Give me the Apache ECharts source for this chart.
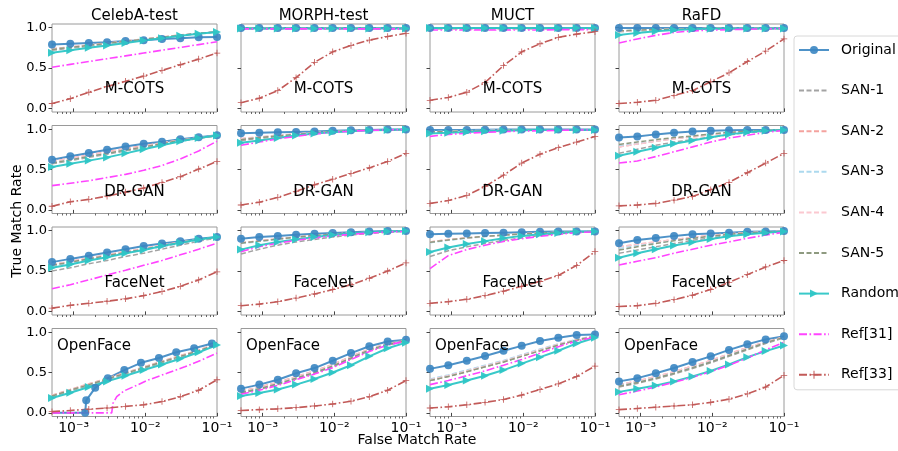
<!DOCTYPE html>
<html><head><meta charset="utf-8">
<script src="https://cdn.jsdelivr.net/npm/echarts@6/dist/echarts.min.js"></script>
<style>html,body{margin:0;padding:0;background:#fff}#c{width:898px;height:451px}</style>
</head><body><div id="c"></div>
<script>
// ---------------- DATA ----------------
const FMR = [5e-4, 9e-4, 1.63e-3, 2.93e-3, 5.3e-3, 9.5e-3, 1.71e-2, 3.08e-2, 5.55e-2, 1e-1];
const seriesNames = ['Original','SAN-1','SAN-2','SAN-3','SAN-4','SAN-5','Random','Ref[31]','Ref[33]'];
const datasetNames = ['CelebA-test','MORPH-test','MUCT','RaFD'];
const matcherNames = ['M-COTS','DR-GAN','FaceNet','OpenFace'];
const xTickValues = [1e-3, 1e-2, 1e-1];
const xTickLabels = ['10\u207B\u00B3','10\u207B\u00B2','10\u207B\u00B9'];
const xMinorTicks = [6e-4,7e-4,8e-4,9e-4,2e-3,3e-3,4e-3,5e-3,6e-3,7e-3,8e-3,9e-3,2e-2,3e-2,4e-2,5e-2,6e-2,7e-2,8e-2,9e-2];
const yTickValues = [0, 0.5, 1];
const yTickLabels = ['0.0','0.5','1.0'];

// Row 1: M-COTS  (order: Original, SAN-1..5, Random, Ref[31], Ref[33])
const mcots_celeba = [
  [0.79,0.80,0.81,0.82,0.835,0.845,0.86,0.87,0.88,0.885],
  [0.72,0.745,0.77,0.795,0.82,0.85,0.875,0.90,0.925,0.945],
  [0.74,0.76,0.785,0.81,0.835,0.86,0.885,0.91,0.93,0.95],
  [0.73,0.755,0.78,0.80,0.83,0.855,0.88,0.905,0.93,0.95],
  [0.735,0.76,0.785,0.805,0.83,0.855,0.88,0.905,0.93,0.95],
  [0.73,0.755,0.78,0.805,0.83,0.855,0.88,0.905,0.93,0.95],
  [0.69,0.72,0.75,0.78,0.81,0.84,0.87,0.90,0.925,0.945],
  [0.51,0.545,0.58,0.615,0.65,0.685,0.72,0.755,0.79,0.825],
  [0.06,0.12,0.20,0.27,0.335,0.40,0.47,0.54,0.61,0.685]
];
const mcots_morph = [
  [0.995,0.995,0.995,0.995,0.995,0.995,0.995,0.995,0.995,0.995],
  [0.99,0.99,0.99,0.99,0.99,0.99,0.99,0.99,0.99,0.99],
  [0.99,0.99,0.99,0.99,0.99,0.99,0.99,0.99,0.99,0.99],
  [0.99,0.99,0.99,0.99,0.99,0.99,0.99,0.99,0.99,0.99],
  [0.99,0.99,0.99,0.99,0.99,0.99,0.99,0.99,0.99,0.99],
  [0.99,0.99,0.99,0.99,0.99,0.99,0.99,0.99,0.99,0.99],
  [0.99,0.99,0.99,0.99,0.99,0.99,0.99,0.99,0.99,0.99],
  [0.985,0.985,0.985,0.985,0.985,0.985,0.985,0.985,0.985,0.985],
  [0.07,0.125,0.22,0.38,0.57,0.70,0.78,0.845,0.89,0.93]
];
const mcots_muct = [
  [0.995,0.995,0.995,0.995,0.995,0.995,0.995,0.995,0.995,0.995],
  [0.99,0.99,0.99,0.99,0.99,0.99,0.99,0.99,0.99,0.99],
  [0.99,0.99,0.99,0.99,0.99,0.99,0.99,0.99,0.99,0.99],
  [0.99,0.99,0.99,0.99,0.99,0.99,0.99,0.99,0.99,0.99],
  [0.99,0.99,0.99,0.99,0.99,0.99,0.99,0.99,0.99,0.99],
  [0.99,0.99,0.99,0.99,0.99,0.99,0.99,0.99,0.99,0.99],
  [0.995,0.995,0.995,0.995,0.995,0.995,0.995,0.995,0.995,0.995],
  [0.97,0.97,0.97,0.97,0.97,0.97,0.97,0.975,0.975,0.975],
  [0.10,0.135,0.20,0.32,0.53,0.70,0.80,0.88,0.92,0.95]
];
const mcots_rafd = [
  [0.995,0.995,0.995,0.995,0.995,0.995,0.995,0.995,0.995,0.995],
  [0.95,0.96,0.97,0.98,0.985,0.99,0.99,0.99,0.99,0.99],
  [0.955,0.965,0.975,0.98,0.985,0.99,0.99,0.99,0.99,0.99],
  [0.955,0.965,0.975,0.98,0.985,0.99,0.99,0.99,0.99,0.99],
  [0.955,0.965,0.975,0.98,0.985,0.99,0.99,0.99,0.99,0.99],
  [0.96,0.97,0.975,0.98,0.985,0.99,0.99,0.99,0.99,0.99],
  [0.91,0.935,0.955,0.97,0.98,0.985,0.99,0.99,0.99,0.99],
  [0.81,0.86,0.905,0.94,0.96,0.97,0.975,0.98,0.985,0.99],
  [0.06,0.075,0.10,0.16,0.22,0.33,0.44,0.58,0.71,0.86]
];
// Row 2: DR-GAN
const drgan_celeba = [
  [0.62,0.665,0.705,0.745,0.785,0.82,0.845,0.875,0.90,0.925],
  [0.57,0.61,0.65,0.69,0.73,0.77,0.81,0.85,0.885,0.915],
  [0.60,0.64,0.68,0.72,0.76,0.795,0.83,0.865,0.895,0.92],
  [0.58,0.62,0.66,0.70,0.74,0.78,0.82,0.86,0.89,0.92],
  [0.60,0.64,0.68,0.715,0.755,0.79,0.83,0.86,0.89,0.92],
  [0.58,0.62,0.66,0.70,0.74,0.78,0.82,0.86,0.89,0.92],
  [0.53,0.57,0.61,0.65,0.70,0.75,0.80,0.85,0.89,0.92],
  [0.30,0.33,0.36,0.40,0.44,0.49,0.55,0.63,0.73,0.85],
  [0.045,0.10,0.13,0.17,0.22,0.27,0.34,0.41,0.505,0.60]
];
const drgan_morph = [
  [0.95,0.955,0.96,0.965,0.97,0.98,0.985,0.99,0.995,0.995],
  [0.86,0.885,0.91,0.93,0.95,0.965,0.975,0.985,0.99,0.995],
  [0.88,0.90,0.92,0.94,0.955,0.97,0.98,0.99,0.99,0.995],
  [0.88,0.90,0.92,0.94,0.955,0.97,0.98,0.99,0.99,0.995],
  [0.885,0.905,0.925,0.94,0.955,0.97,0.98,0.99,0.99,0.995],
  [0.87,0.895,0.915,0.935,0.955,0.97,0.98,0.99,0.99,0.995],
  [0.83,0.86,0.89,0.92,0.945,0.96,0.975,0.985,0.99,0.995],
  [0.80,0.84,0.88,0.91,0.94,0.96,0.975,0.985,0.99,0.995],
  [0.06,0.095,0.155,0.23,0.31,0.38,0.45,0.52,0.60,0.70]
];
const drgan_muct = [
  [0.99,0.99,0.99,0.992,0.994,0.995,0.995,0.995,0.995,0.995],
  [0.965,0.97,0.975,0.98,0.985,0.99,0.99,0.99,0.99,0.99],
  [0.965,0.97,0.975,0.98,0.985,0.99,0.99,0.99,0.99,0.99],
  [0.97,0.975,0.98,0.985,0.985,0.99,0.99,0.99,0.99,0.99],
  [0.965,0.97,0.975,0.98,0.985,0.99,0.99,0.99,0.99,0.99],
  [0.965,0.97,0.975,0.98,0.985,0.99,0.99,0.99,0.99,0.99],
  [0.945,0.955,0.965,0.975,0.98,0.985,0.99,0.99,0.99,0.99],
  [0.91,0.935,0.95,0.96,0.97,0.975,0.98,0.985,0.99,0.99],
  [0.08,0.115,0.18,0.29,0.43,0.58,0.69,0.77,0.84,0.91]
];
const drgan_rafd = [
  [0.895,0.91,0.935,0.955,0.97,0.98,0.985,0.99,0.99,0.99],
  [0.70,0.75,0.80,0.84,0.87,0.90,0.93,0.955,0.975,0.99],
  [0.78,0.815,0.85,0.88,0.905,0.93,0.95,0.97,0.985,0.99],
  [0.79,0.82,0.855,0.885,0.91,0.935,0.955,0.97,0.985,0.99],
  [0.78,0.815,0.85,0.88,0.905,0.93,0.95,0.97,0.985,0.99],
  [0.81,0.84,0.87,0.895,0.915,0.94,0.96,0.975,0.985,0.99],
  [0.67,0.72,0.77,0.82,0.86,0.90,0.935,0.96,0.98,0.99],
  [0.58,0.605,0.66,0.72,0.78,0.84,0.89,0.925,0.96,0.985],
  [0.05,0.06,0.08,0.12,0.165,0.25,0.34,0.46,0.58,0.70]
];
// Row 3: FaceNet
const facenet_celeba = [
  [0.61,0.65,0.69,0.73,0.77,0.81,0.84,0.87,0.90,0.92],
  [0.50,0.54,0.59,0.63,0.68,0.72,0.77,0.82,0.87,0.91],
  [0.58,0.62,0.66,0.70,0.74,0.78,0.82,0.86,0.89,0.92],
  [0.56,0.60,0.64,0.68,0.72,0.76,0.80,0.84,0.88,0.92],
  [0.58,0.62,0.66,0.70,0.74,0.78,0.82,0.855,0.89,0.92],
  [0.57,0.61,0.65,0.69,0.73,0.77,0.81,0.85,0.89,0.92],
  [0.54,0.58,0.63,0.67,0.72,0.76,0.81,0.85,0.89,0.92],
  [0.28,0.33,0.39,0.45,0.51,0.57,0.63,0.70,0.77,0.845],
  [0.04,0.075,0.10,0.125,0.155,0.195,0.245,0.31,0.39,0.49]
];
const facenet_morph = [
  [0.90,0.92,0.935,0.95,0.96,0.97,0.98,0.99,0.995,0.995],
  [0.71,0.77,0.82,0.86,0.89,0.92,0.945,0.965,0.98,0.99],
  [0.85,0.875,0.90,0.92,0.94,0.955,0.97,0.98,0.99,0.995],
  [0.84,0.865,0.89,0.915,0.935,0.955,0.97,0.98,0.99,0.995],
  [0.85,0.875,0.90,0.92,0.94,0.955,0.97,0.98,0.99,0.995],
  [0.845,0.87,0.895,0.92,0.94,0.955,0.97,0.98,0.99,0.995],
  [0.765,0.82,0.86,0.89,0.92,0.945,0.965,0.98,0.99,0.995],
  [0.74,0.80,0.845,0.88,0.91,0.935,0.955,0.97,0.985,0.99],
  [0.07,0.09,0.12,0.165,0.215,0.27,0.33,0.41,0.50,0.60]
];
const facenet_muct = [
  [0.955,0.96,0.965,0.97,0.975,0.98,0.985,0.99,0.99,0.99],
  [0.68,0.75,0.80,0.84,0.88,0.91,0.94,0.96,0.98,0.99],
  [0.86,0.89,0.91,0.93,0.945,0.96,0.97,0.98,0.985,0.99],
  [0.85,0.88,0.905,0.925,0.945,0.96,0.97,0.98,0.985,0.99],
  [0.86,0.89,0.91,0.93,0.945,0.96,0.97,0.98,0.985,0.99],
  [0.855,0.885,0.91,0.93,0.945,0.96,0.97,0.98,0.985,0.99],
  [0.735,0.79,0.835,0.87,0.905,0.935,0.955,0.97,0.985,0.99],
  [0.53,0.69,0.765,0.82,0.865,0.90,0.93,0.955,0.975,0.985],
  [0.10,0.12,0.15,0.195,0.25,0.31,0.37,0.445,0.57,0.74]
];
const facenet_rafd = [
  [0.845,0.885,0.91,0.935,0.955,0.965,0.975,0.985,0.99,0.995],
  [0.72,0.76,0.80,0.84,0.88,0.91,0.94,0.96,0.98,0.99],
  [0.80,0.83,0.86,0.89,0.915,0.94,0.96,0.975,0.985,0.99],
  [0.78,0.815,0.85,0.88,0.905,0.93,0.955,0.97,0.985,0.99],
  [0.80,0.83,0.86,0.89,0.915,0.94,0.96,0.975,0.985,0.99],
  [0.76,0.80,0.84,0.875,0.905,0.93,0.955,0.97,0.985,0.99],
  [0.665,0.72,0.77,0.815,0.855,0.895,0.93,0.955,0.975,0.99],
  [0.575,0.62,0.665,0.72,0.77,0.82,0.86,0.905,0.945,0.98],
  [0.06,0.07,0.10,0.145,0.20,0.27,0.36,0.455,0.55,0.63]
];
// Row 4: OpenFace
const fmr_openface_celeba_original = [5e-4,1.45e-3,1.5e-3,2.0e-3,3.0e-3,5.1e-3,8.7e-3,1.55e-2,2.7e-2,4.8e-2,8.5e-2,1e-1];
const fmr_openface_celeba_ref31 = [5e-4,3.4e-3,3.55e-3,4.0e-3,5.0e-3,7.1e-3,1.12e-2,2.0e-2,3.55e-2,6.3e-2,1e-1];
const openface_celeba = [
  [0,0,0.155,0.31,0.43,0.53,0.62,0.68,0.75,0.80,0.86,0.865],
  [0.20,0.27,0.34,0.41,0.48,0.55,0.62,0.69,0.76,0.845],
  [0.22,0.29,0.36,0.43,0.50,0.57,0.64,0.71,0.78,0.855],
  [0.21,0.28,0.35,0.42,0.49,0.56,0.63,0.70,0.77,0.85],
  [0.215,0.285,0.355,0.425,0.495,0.565,0.635,0.705,0.775,0.85],
  [0.21,0.28,0.35,0.42,0.49,0.56,0.63,0.70,0.77,0.85],
  [0.185,0.25,0.32,0.39,0.46,0.53,0.60,0.67,0.75,0.84],
  [0,0,0.12,0.20,0.27,0.33,0.41,0.49,0.57,0.66,0.74],
  [0.015,0.03,0.045,0.06,0.08,0.10,0.14,0.20,0.28,0.41]
];
const openface_morph = [
  [0.30,0.35,0.41,0.49,0.555,0.645,0.74,0.825,0.885,0.905],
  [0.24,0.29,0.35,0.42,0.49,0.57,0.67,0.77,0.84,0.885],
  [0.27,0.32,0.38,0.45,0.52,0.60,0.70,0.79,0.86,0.895],
  [0.26,0.31,0.37,0.44,0.51,0.59,0.69,0.785,0.855,0.89],
  [0.265,0.315,0.375,0.445,0.515,0.595,0.695,0.79,0.855,0.89],
  [0.25,0.30,0.36,0.43,0.50,0.58,0.68,0.78,0.85,0.89],
  [0.21,0.245,0.29,0.35,0.42,0.50,0.59,0.70,0.80,0.87],
  [0.23,0.28,0.34,0.41,0.48,0.56,0.66,0.76,0.84,0.89],
  [0.03,0.04,0.05,0.065,0.085,0.11,0.145,0.20,0.28,0.40]
];
const openface_muct = [
  [0.545,0.59,0.645,0.705,0.77,0.83,0.89,0.93,0.965,0.97],
  [0.40,0.45,0.51,0.57,0.63,0.70,0.77,0.84,0.90,0.95],
  [0.41,0.46,0.52,0.58,0.64,0.71,0.78,0.85,0.905,0.95],
  [0.42,0.47,0.53,0.59,0.65,0.72,0.79,0.855,0.91,0.955],
  [0.41,0.46,0.52,0.58,0.64,0.71,0.78,0.85,0.905,0.95],
  [0.40,0.45,0.51,0.57,0.63,0.70,0.77,0.84,0.90,0.95],
  [0.30,0.345,0.40,0.46,0.53,0.61,0.69,0.77,0.86,0.93],
  [0.35,0.40,0.46,0.52,0.59,0.66,0.74,0.82,0.89,0.94],
  [0.06,0.075,0.10,0.13,0.165,0.22,0.29,0.36,0.45,0.58]
];
const openface_rafd = [
  [0.39,0.43,0.49,0.555,0.63,0.70,0.78,0.85,0.91,0.95],
  [0.32,0.365,0.42,0.48,0.55,0.62,0.70,0.78,0.86,0.93],
  [0.35,0.395,0.45,0.51,0.58,0.65,0.73,0.81,0.88,0.94],
  [0.34,0.385,0.44,0.50,0.57,0.64,0.72,0.80,0.875,0.935],
  [0.35,0.395,0.45,0.51,0.58,0.65,0.73,0.81,0.88,0.94],
  [0.33,0.375,0.43,0.49,0.56,0.63,0.71,0.79,0.87,0.935],
  [0.26,0.30,0.34,0.39,0.45,0.52,0.60,0.69,0.765,0.835],
  [0.225,0.27,0.32,0.38,0.44,0.51,0.59,0.68,0.78,0.875],
  [0.04,0.055,0.07,0.085,0.10,0.13,0.17,0.235,0.32,0.465]
];

const panels = [
  [mcots_celeba, mcots_morph, mcots_muct, mcots_rafd],
  [drgan_celeba, drgan_morph, drgan_muct, drgan_rafd],
  [facenet_celeba, facenet_morph, facenet_muct, facenet_rafd],
  [openface_celeba, openface_morph, openface_muct, openface_rafd]
];
// series with their own FMR sampling (row-col-series)
const xOverrides = {'3-0-0': fmr_openface_celeba_original, '3-0-7': fmr_openface_celeba_ref31};

// ---------------- STYLE / LAYOUT ----------------
const FONT = 'DejaVu Sans';
const colLeft = [52, 241, 430, 619];
const rowTop = [24, 125.5, 227, 328.5];
const PW = 165, PH = 88;
const XMIN = Math.log10(5e-4), XMAX = -1;
const YMIN = -0.045, YMAX = 1.045;
const PLUS = 'path://M3.5,0h1v3.5h3.5v1h-3.5v3.5h-1v-3.5h-3.5v-1h3.5z';
const DASH = [5, 2.5];
const DASHDOT = [8, 2.5, 1.6, 2.5];
const styles = [
  {color:'#3b86c2', type:'solid', width:2, symbol:'circle', size:8, opacity:0.9, marker:true},
  {color:'#a3a3a3', type:DASH, width:1.5, symbol:'circle', size:0, opacity:1, marker:false},
  {color:'#f4a29e', type:DASH, width:1.5, symbol:'circle', size:0, opacity:1, marker:false},
  {color:'#acd9ee', type:DASH, width:1.5, symbol:'circle', size:0, opacity:1, marker:false},
  {color:'#fbc8d0', type:DASH, width:1.5, symbol:'circle', size:0, opacity:1, marker:false},
  {color:'#8e9a80', type:DASH, width:1.5, symbol:'circle', size:0, opacity:1, marker:false},
  {color:'#2ec6c6', type:'solid', width:2, symbol:'triangle', size:8, rotate:-90, opacity:0.95, marker:true},
  {color:'#ff44ff', type:DASHDOT, width:1.6, symbol:'circle', size:0, opacity:1, marker:false},
  {color:'#c25a58', type:DASHDOT, width:1.6, symbol:PLUS, size:6.5, opacity:1, marker:true}
];

const grids = [], xAxes = [], yAxes = [], series = [], graphics = [];
const lg = v => Math.log10(v);

for (let r = 0; r < 4; r++) {
  for (let c = 0; c < 4; c++) {
    const gi = r * 4 + c;
    grids.push({left: colLeft[c], top: rowTop[r], width: PW, height: PH, show: true,
      borderColor: '#9a9a9a', borderWidth: 1, backgroundColor: 'transparent'});
    const xi = xAxes.length;
    xAxes.push({type:'value', gridIndex: gi, min: XMIN, max: XMAX, position:'bottom',
      axisLine:{show:false}, splitLine:{show:false},
      axisTick:{show:true, length:3.5, customValues: xTickValues.map(lg), lineStyle:{color:'#444', width:1}},
      axisLabel:{show: r === 3, customValues: xTickValues.map(lg), margin:5, fontSize:14, color:'#000', fontFamily:FONT,
        formatter: v => { const i = xTickValues.findIndex(t => Math.abs(lg(t) - v) < 1e-6); return i >= 0 ? xTickLabels[i] : ''; }}
    });
    xAxes.push({type:'value', gridIndex: gi, min: XMIN, max: XMAX, position:'bottom',
      axisLine:{show:false}, splitLine:{show:false},
      axisTick:{show:true, length:2, customValues: xMinorTicks.map(lg), lineStyle:{color:'#444', width:0.8}},
      axisLabel:{show:false}
    });
    yAxes.push({type:'value', gridIndex: gi, min: YMIN, max: YMAX,
      axisLine:{show:false}, splitLine:{show:false},
      axisTick:{show:true, length:3.5, customValues: yTickValues, lineStyle:{color:'#444', width:1}},
      axisLabel:{show: c === 0, customValues: yTickValues, margin:5, fontSize:13, color:'#000', fontFamily:FONT,
        formatter: v => { const i = yTickValues.findIndex(t => Math.abs(t - v) < 1e-9); return i >= 0 ? yTickLabels[i] : ''; }}
    });
    const block = panels[r][c];
    for (let s = 0; s < seriesNames.length; s++) {
      const st = styles[s];
      const key = r + '-' + c + '-' + s;
      const xs = xOverrides[key] || FMR;
      const ys = block[s];
      const data = ys.map((y, i) => {
        const item = {value: [lg(xs[i]), y]};
        if (xOverrides[key] && (i === 0 || i === ys.length - 1)) item.symbol = 'none';
        return item;
      });
      series.push({
        type:'line', name: seriesNames[s], xAxisIndex: xi, yAxisIndex: gi, data,
        symbol: st.symbol, symbolSize: st.size, symbolRotate: st.rotate || 0, showSymbol: st.marker,
        showAllSymbol: true, smooth: false, clip: true, animation:false, silent:true,
        lineStyle:{color: st.color, width: st.width, type: st.type, opacity: st.opacity},
        itemStyle:{color: st.color, opacity: st.opacity, borderWidth:0},
        emphasis:{disabled:true}
      });
    }
  }
}

// titles / labels
for (let c = 0; c < 4; c++) {
  graphics.push({type:'text', x: colLeft[c] + PW / 2, y: 16, style:{text: datasetNames[c], fontSize:15, fontFamily:FONT, fill:'#000', textAlign:'center', textVerticalAlign:'middle'}});
}
const rowLabelOffset = [65, 66.5, 56, 17.5];
for (let r = 0; r < 4; r++) {
  for (let c = 0; c < 4; c++) {
    const left = r === 3;
    graphics.push({type:'text', x: left ? colLeft[c] + 5 : colLeft[c] + PW / 2, y: rowTop[r] + rowLabelOffset[r], z: 100,
      style:{text: matcherNames[r], fontSize:15, fontFamily:FONT, fill:'#000', textAlign: left ? 'left' : 'center', textVerticalAlign:'middle'}});
  }
}
graphics.push({type:'text', x: 17, y: 221, rotation: Math.PI / 2, style:{text:'True Match Rate', fontSize:14, fontFamily:FONT, fill:'#000', textAlign:'center', textVerticalAlign:'middle'}});
graphics.push({type:'text', x: 417, y: 440, style:{text:'False Match Rate', fontSize:14, fontFamily:FONT, fill:'#000', textAlign:'center', textVerticalAlign:'middle'}});

const legendData = seriesNames.map((n, i) => styles[i].marker ? {name: n} : {name: n, itemStyle: {opacity: 0}});

const chart = echarts.init(document.getElementById('c'), null, {renderer:'canvas'});
chart.setOption({
  animation:false,
  textStyle:{fontFamily:FONT},
  grid: grids, xAxis: xAxes, yAxis: yAxes, series,
  legend:{
    data: legendData, orient:'vertical', left: 794, top: 36,
    padding:[7, 14, 8, 4], itemWidth: 30, itemHeight: 10, itemGap: 26.6,
    borderColor:'#d8d8d8', borderWidth:1, borderRadius:3, backgroundColor:'#fff',
    selectedMode:false,
    textStyle:{fontSize:14, lineHeight:14, color:'#000', fontFamily:FONT, padding:[0,0,0,7]}
  },
  graphic: graphics
});
</script>
</body></html>
